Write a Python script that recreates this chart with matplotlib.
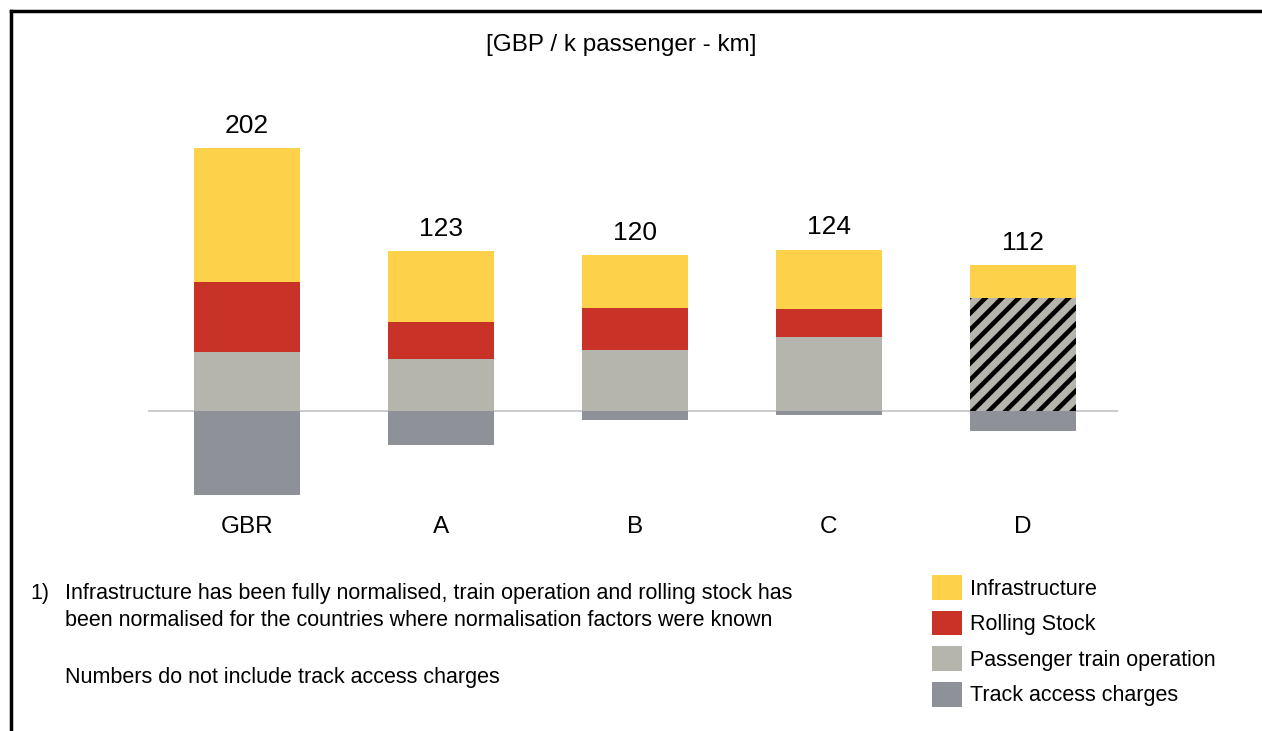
import matplotlib.pyplot as plt
from matplotlib.lines import Line2D
import numpy as np

plt.rcParams['font.family'] = ['Liberation Sans', 'DejaVu Sans']
plt.rcParams['hatch.linewidth'] = 3.3

# --- data (GBP / k passenger-km) ---
countries = ["GBR", "A", "B", "C", "D"]
totals = [202, 123, 120, 124, 112]
infrastructure = [103, 55, 41, 46, 25]
rolling_stock = [54, 28, 32, 21, 0]
train_operation = [45, 40, 47, 57, 0]
not_split = [0, 0, 0, 0, 87]          # D: rolling stock + operation, hatched
track_access = [-64.5, -26, -7, -3, -15]

c_infra = '#fdd24a'
c_roll = '#c93226'
c_oper = '#b5b5ae'
c_track = '#8e9197'

W, H = 1262, 731
fig = plt.figure(figsize=(W / 100, H / 100), dpi=100)

# axes placed in pixel terms so zero line sits where the original has it
left, right, top, bottom = 148, 1118, 100, 515
ax = fig.add_axes([left / W, 1 - bottom / H, (right - left) / W, (bottom - top) / H])

x = np.arange(len(countries))
bw = 0.55
oper = np.array(train_operation)
roll = np.array(rolling_stock)
ns = np.array(not_split)
infra = np.array(infrastructure)

ax.bar(x, oper, bw, color=c_oper, linewidth=0, label='Passenger train operation')
ax.bar(x, roll, bw, bottom=oper, color=c_roll, linewidth=0, label='Rolling Stock')
ax.bar(x, ns, bw, bottom=oper + roll, color=c_oper, edgecolor='black',
       hatch='//', linewidth=0)
ax.bar(x, infra, bw, bottom=oper + roll + ns, color=c_infra, linewidth=0,
       label='Infrastructure')
ax.bar(x, track_access, bw, color=c_track, linewidth=0, label='Track access charges')

ax.axhline(0, color='#c8c8c8', linewidth=1.3, zorder=0)

heights = oper + roll + ns + infra
for xi, h, t in zip(x, heights, totals):
    ax.annotate(str(t), (xi, h), xytext=(0, 11), textcoords='offset points',
                ha='center', va='baseline', fontsize=19)

ax.set_xlim(-0.51, 4.49)
ax.set_ylim(-79.9, 238.9)
ax.set_xticks(x, countries, fontsize=17.5)
ax.tick_params(axis='x', length=0, pad=1)
ax.set_yticks([])
for s in ax.spines.values():
    s.set_visible(False)

# title
fig.text(621 / W, 1 - 45 / H, "[GBP / k passenger - km]", ha='center', va='center',
         fontsize=17.5)

# footnotes
fs = 15.5
fig.text(30 / W, 1 - 593 / H, "1)", ha='left', va='center', fontsize=fs)
fig.text(65 / W, 1 - 593 / H,
         "Infrastructure has been fully normalised, train operation and rolling stock has",
         ha='left', va='center', fontsize=fs)
fig.text(65 / W, 1 - 621 / H,
         "been normalised for the countries where normalisation factors were known",
         ha='left', va='center', fontsize=fs)
fig.text(65 / W, 1 - 677 / H, "Numbers do not include track access charges",
         ha='left', va='center', fontsize=fs)

# legend
handles, labels = ax.get_legend_handles_labels()
order = ['Infrastructure', 'Rolling Stock', 'Passenger train operation',
         'Track access charges']
hmap = dict(zip(labels, handles))
fig.legend([hmap[k] for k in order], order, loc='upper left',
           bbox_to_anchor=(932 / W, 1 - 575 / H), frameon=False, fontsize=fs,
           handlelength=1.4, handleheight=1.4, handletextpad=0.37,
           labelspacing=0.5, borderpad=0, borderaxespad=0)

# frame lines on top and left
fig.add_artist(Line2D([11 / W, 1], [1 - 11 / H, 1 - 11 / H], color='black', lw=2.5))
fig.add_artist(Line2D([11 / W, 11 / W], [0, 1 - 11 / H], color='black', lw=2.5))

fig.savefig('out.png', dpi=100)
